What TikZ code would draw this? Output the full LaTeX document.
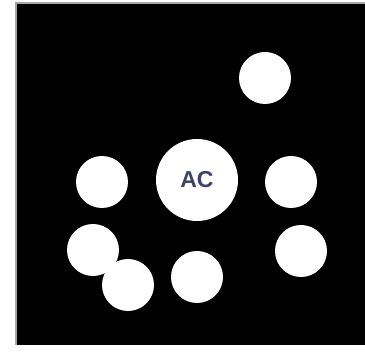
\documentclass[tikz,border=0pt]{standalone}
\usepackage{fontspec}
\setmainfont{Liberation Sans}
\definecolor{txt}{RGB}{60,66,105}
\begin{document}
\begin{tikzpicture}[x=1pt,y=-1pt,
  dot/.style={circle,fill=white,draw=none,minimum size=52pt,inner sep=0pt},
  big/.style={circle,fill=white,draw=none,minimum size=82pt,inner sep=0pt,text=txt,font=\fontsize{23}{23}\selectfont\bfseries}]
\useasboundingbox[fill=white] (0,0) rectangle (365,355);
\fill[black] (16,3) rectangle (365,345);
\draw[gray!70,line width=1.5pt] (16,345) -- (16,3) -- (365,3);
\node[dot] (t) at (265,78) {};
\node[big] (ac) at (197,180) {AC};
\node[dot] (l) at (102,182) {};
\node[dot] (r) at (291,182) {};
\node[dot] (bl1) at (93,250) {};
\node[dot] (bl2) at (128,285) {};
\node[dot] (bm) at (197,277) {};
\node[dot] (br) at (301,251) {};
\end{tikzpicture}
\end{document}
